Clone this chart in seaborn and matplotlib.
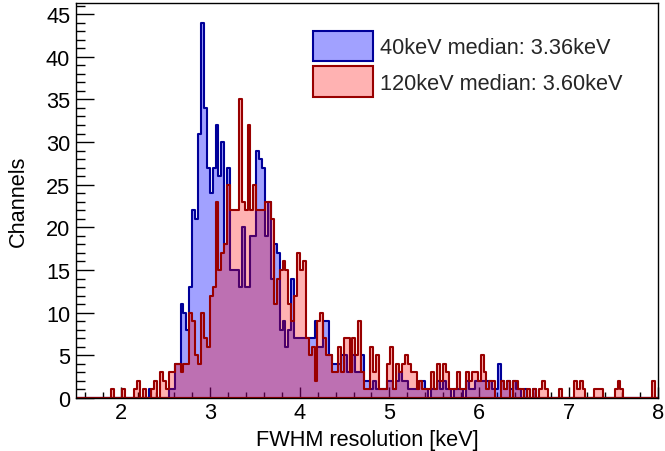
import numpy as np
import pandas as pd
import matplotlib
matplotlib.use("Agg")
import matplotlib.pyplot as plt
import seaborn as sns
from matplotlib.patches import Patch
from matplotlib.ticker import MultipleLocator

sns.set_theme(style="white")
plt.rcParams['font.family'] = ['Liberation Sans', 'DejaVu Sans']

# histogram binning: 200 bins between 1.5 and 8 keV
x_min, x_max, n_bins = 1.5, 8.0, 200

# counts per bin (40 keV series), bins 0..199
blue_counts = [0]*25 + [1] + [0]*6 + [1, 1, 4, 4, 11, 10, 8, 13, 22, 21, 31, 44,
    34, 27, 24, 27, 32, 26, 30, 18, 27, 15, 15, 15, 13, 20, 13, 13, 19, 19,
    29, 28, 27, 19, 23, 14, 18, 17, 8, 9, 6, 8, 14, 7, 7, 7, 7, 7, 7, 7, 9,
    6, 6, 9, 9, 5, 4, 4, 4, 5, 5, 3, 3, 5, 3, 3, 5, 2, 2, 1, 2, 1, 1, 1, 1,
    2, 2, 1, 2, 3, 2, 2, 1, 1, 1, 1, 2, 2, 1, 0, 1, 1, 2, 1, 2, 1, 1, 0, 1,
    1, 1, 0, 2, 1, 1, 2, 2, 2, 2, 2, 2, 1, 1, 4, 2, 1, 2, 1, 2, 1, 1, 0, 1,
    0, 0, 1, 0, 0] + [0]*40

# counts per bin (120 keV series), bins 0..199
red_counts = [0]*12 + [1, 0, 0, 0, 1, 0, 0, 0, 1, 2, 0, 1, 0, 0, 1, 2, 0, 3,
    2, 1, 3, 3, 4, 4, 3, 4, 4, 10, 9, 5, 4, 10, 7, 6, 12, 13, 23, 15, 17, 18,
    25, 22, 22, 22, 35, 23, 22, 32, 22, 25, 22, 22, 22, 23, 23, 21, 11, 14,
    15, 16, 15, 11, 9, 12, 17, 15, 16, 7, 5, 6, 2, 9, 10, 7, 5, 5, 3, 3, 6,
    3, 7, 7, 3, 7, 5, 9, 3, 1, 1, 6, 3, 5, 1, 1, 1, 4, 6, 1, 4, 3, 4, 5, 4,
    3, 3, 1, 2, 1, 1, 1, 3, 1, 4, 2, 4, 3, 1, 1, 1, 3, 1, 1, 3, 2, 3, 3, 2,
    5, 3, 1, 2, 2, 0, 0, 2, 1, 2, 0, 2, 2, 1, 1, 0, 1, 0, 1, 0, 1, 2, 1, 0,
    0, 0, 0, 1, 0, 0, 0, 0, 2, 1, 2, 1, 0, 0, 0, 1, 1, 1, 0, 0, 0, 0, 1, 2,
    1, 0, 0, 0, 0, 0, 0, 0, 0, 0, 0, 2, 0]

labels = ["40keV median: 3.36keV", "120keV median: 3.60keV"]
x_title = "FWHM resolution [keV]"
y_title = "Channels"

edges = np.linspace(x_min, x_max, n_bins + 1)
centers = 0.5 * (edges[:-1] + edges[1:])

series = {"40": blue_counts, "120": red_counts}

FS = 15.7

fig = plt.figure(figsize=(6.65, 4.52), dpi=100)
ax = fig.add_axes([75.7/665, 53/452, (658.3-75.7)/665, 395/452])

fills = [(0.0, 0.0, 1.0, 0.37), (1.0, 0.0, 0.0, 0.30)]
lines = [(0.0, 0.0, 0.6), (0.6, 0.0, 0.0)]

for i, (s, counts) in enumerate(series.items()):
    d = pd.DataFrame({"x": centers, "w": np.asarray(counts, dtype=float)})
    n_before = len(ax.collections)
    sns.histplot(data=d, x="x", weights="w", bins=n_bins,
                 binrange=(x_min, x_max), element="step", fill=True,
                 ax=ax, legend=False)
    for c in ax.collections[n_before:]:
        c.set_alpha(None)
        c.set_facecolor(fills[i])
        c.set_edgecolor(lines[i])
        c.set_linewidth(1.5)
        c.set_zorder(2 + i)

ax.set_xlim(x_min, x_max)
ax.set_ylim(0, 46.3)
ax.xaxis.set_major_locator(MultipleLocator(1))
ax.xaxis.set_minor_locator(MultipleLocator(0.2))
ax.yaxis.set_major_locator(MultipleLocator(5))
ax.yaxis.set_minor_locator(MultipleLocator(1))
ax.tick_params(axis="both", which="both", direction="in", color="black",
               labelsize=FS, top=False, right=False, bottom=True, left=True,
               labelcolor="black", zorder=10)
ax.tick_params(axis="x", which="major", length=8, width=1, pad=3)
ax.tick_params(axis="x", which="minor", length=4.3, width=1)
ax.tick_params(axis="y", which="major", length=12.7, width=1, pad=4)
ax.tick_params(axis="y", which="minor", length=6.5, width=1)
for sp in ax.spines.values():
    sp.set_color("black")
    sp.set_linewidth(1)
    sp.set_zorder(10)
ax.set_xlabel(x_title, fontsize=FS, labelpad=4, color="black")
ax.set_ylabel(y_title, fontsize=FS, labelpad=12, color="black")
ax.grid(False)

handles = [Patch(facecolor=fills[0], edgecolor=lines[0], linewidth=1.5),
           Patch(facecolor=fills[1], edgecolor=lines[1], linewidth=1.5)]
ax.legend(handles, labels, loc="upper left",
          bbox_to_anchor=((313 - 75.7) / 582.6, (399 - 31.5) / 395),
          frameon=False, fontsize=FS, handlelength=2.75, handleheight=1.8,
          handletextpad=0.32, labelspacing=0.22, borderaxespad=0,
          borderpad=0)

fig.savefig("out.png", dpi=100)
